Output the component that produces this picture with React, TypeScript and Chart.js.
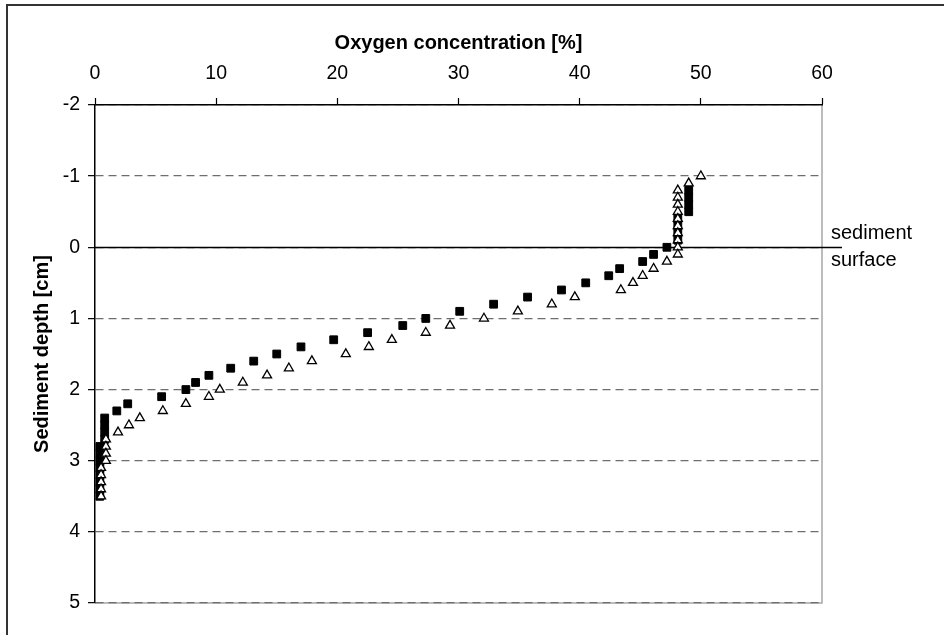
import React, { useEffect, useRef } from "react";
import { Chart, registerables } from "chart.js";

Chart.register(...registerables);

// ---- Data ----
// Filled squares: depth [cm] and oxygen [%]
const squareDepth = [
  -0.8, -0.7, -0.6, -0.5, -0.4, -0.3, -0.2, -0.1, 0.0, 0.1, 0.2, 0.3, 0.4, 0.5, 0.6, 0.7,
  0.8, 0.9, 1.0, 1.1, 1.2, 1.3, 1.4, 1.5, 1.6, 1.7, 1.8, 1.9, 2.0, 2.1, 2.2, 2.3, 2.4, 2.5,
  2.6, 2.7, 2.8, 2.9, 3.0, 3.1, 3.2, 3.3, 3.4, 3.5,
];
const squareO2 = [
  49.0, 49.0, 49.0, 49.0, 48.1, 48.1, 48.1, 48.1, 47.2, 46.1, 45.2, 43.3, 42.4, 40.5, 38.5, 35.7,
  32.9, 30.1, 27.3, 25.4, 22.5, 19.7, 17.0, 15.0, 13.1, 11.2, 9.4, 8.3, 7.5, 5.5, 2.7, 1.8, 0.8, 0.8,
  0.8, 0.8, 0.4, 0.4, 0.4, 0.4, 0.4, 0.4, 0.4, 0.4,
];

// Open triangles: depth [cm] and oxygen [%]
const triangleDepth = [
  -1.0, -0.9, -0.8, -0.7, -0.6, -0.5, -0.4, -0.3, -0.2, -0.1, 0.0, 0.1, 0.2, 0.3, 0.4, 0.5,
  0.6, 0.7, 0.8, 0.9, 1.0, 1.1, 1.2, 1.3, 1.4, 1.5, 1.6, 1.7, 1.8, 1.9, 2.0, 2.1, 2.2, 2.3,
  2.4, 2.5, 2.6, 2.7, 2.8, 2.9, 3.0, 3.1, 3.2, 3.3, 3.4, 3.5,
];
const triangleO2 = [
  50.0, 49.0, 48.1, 48.1, 48.1, 48.1, 48.1, 48.1, 48.1, 48.1, 48.1, 48.1, 47.2, 46.1, 45.2, 44.4,
  43.4, 39.6, 37.7, 34.9, 32.1, 29.3, 27.3, 24.5, 22.6, 20.7, 17.9, 16.0, 14.2, 12.2, 10.3, 9.4,
  7.5, 5.6, 3.7, 2.8, 1.9, 0.9, 0.9, 0.9, 0.9, 0.5, 0.5, 0.5, 0.5, 0.5,
];

const xTicks = [0, 10, 20, 30, 40, 50, 60];
const yTicks = [-2, -1, 0, 1, 2, 3, 4, 5];
const xTitle = "Oxygen concentration [%]";
const yTitle = "Sediment depth [cm]";
const surfaceLabel = ["sediment", "surface"];

const FONT = "'Liberation Sans', Arial, Helvetica, sans-serif";

export default function App() {
  const ref = useRef<HTMLCanvasElement>(null);

  useEffect(() => {
    const canvas = ref.current;
    if (!canvas) return;

    const decor = {
      id: "decor",
      beforeDraw(chart: any) {
        const { ctx, chartArea: a } = chart;
        ctx.save();
        ctx.fillStyle = "#ffffff";
        ctx.fillRect(0, 0, chart.width, chart.height);
        // outer frame (right/bottom run off the picture)
        ctx.strokeStyle = "#333333";
        ctx.lineWidth = 2;
        ctx.strokeRect(7, 5, chart.width + 20, chart.height + 20);
        // plot area border (grey) right and bottom
        ctx.strokeStyle = "#a6a6a6";
        ctx.lineWidth = 1.5;
        ctx.beginPath();
        ctx.moveTo(a.left, a.bottom);
        ctx.lineTo(a.right, a.bottom);
        ctx.lineTo(a.right, a.top);
        ctx.stroke();
        ctx.restore();
      },
      beforeDatasetsDraw(chart: any) {
        const { ctx, chartArea: a } = chart;
        const y0 = Math.round(chart.scales.y.getPixelForValue(0)) + 0.5;
        ctx.save();
        ctx.strokeStyle = "#000000";
        ctx.lineWidth = 1.5;
        ctx.beginPath();
        ctx.moveTo(a.left, y0);
        ctx.lineTo(a.right + 20, y0);
        ctx.stroke();
        ctx.restore();
      },
      afterDraw(chart: any) {
        const { ctx, chartArea: a } = chart;
        const y0 = chart.scales.y.getPixelForValue(0);
        ctx.save();
        ctx.fillStyle = "#000000";
        ctx.font = `20px ${FONT}`;
        ctx.textAlign = "left";
        ctx.textBaseline = "alphabetic";
        ctx.fillText(surfaceLabel[0], a.right + 9, y0 - 8);
        ctx.fillText(surfaceLabel[1], a.right + 9, y0 + 19);
        ctx.restore();
      },
    };

    const chart = new Chart(canvas, {
      type: "scatter",
      data: {
        datasets: [
          {
            label: "squares",
            data: squareDepth.map((d, i) => ({ x: squareO2[i], y: d })),
            pointStyle: "rect",
            pointRadius: 5.5,
            pointHoverRadius: 5.5,
            backgroundColor: "#000000",
            borderColor: "#000000",
            borderWidth: 1,
            showLine: false,
            order: 1,
          },
          {
            label: "triangles",
            data: triangleDepth.map((d, i) => ({ x: triangleO2[i], y: d })),
            pointStyle: "triangle",
            pointRadius: 5.2,
            pointHoverRadius: 5.2,
            backgroundColor: "#ffffff",
            borderColor: "#000000",
            borderWidth: 1.3,
            showLine: false,
            order: 0,
          },
        ],
      },
      options: {
        responsive: false,
        animation: false,
        devicePixelRatio: 1,
        layout: { padding: { left: 0, top: 0, right: 122, bottom: 32 } },
        plugins: {
          legend: { display: false },
          tooltip: { enabled: false },
        },
        scales: {
          x: {
            type: "linear",
            position: "top",
            min: 0,
            max: 60,
            afterBuildTicks: (s: any) => {
              s.ticks = xTicks.map((v) => ({ value: v }));
            },
            afterFit: (s: any) => {
              s.height = 105;
            },
            ticks: {
              font: { family: FONT, size: 19.5 },
              color: "#000000",
              padding: 12.6,
              maxRotation: 0,
              autoSkip: false,
            },
            grid: {
              drawOnChartArea: false,
              drawTicks: true,
              tickLength: 7,
              tickColor: "#000000",
              tickWidth: 1.2,
            },
            border: { display: true, color: "#000000", width: 1.5 },
            title: {
              display: true,
              text: xTitle,
              color: "#000000",
              font: { family: FONT, size: 20, weight: "bold" },
              padding: { top: 31, bottom: 0 },
            },
          },
          y: {
            type: "linear",
            position: "left",
            reverse: true,
            min: -2,
            max: 5,
            afterBuildTicks: (s: any) => {
              s.ticks = yTicks.map((v) => ({ value: v }));
            },
            afterFit: (s: any) => {
              s.width = 95;
            },
            ticks: {
              font: { family: FONT, size: 19.5 },
              color: "#000000",
              padding: 8,
              autoSkip: false,
            },
            grid: {
              drawOnChartArea: true,
              drawTicks: true,
              tickLength: 7,
              color: "#6e6e6e",
              lineWidth: 1.3,
              tickColor: "#000000",
              tickWidth: 1.2,
              tickBorderDash: [],
            },
            border: {
              display: true,
              color: "#000000",
              width: 1.5,
              dash: (ctx: any) => (ctx.type === "tick" ? [8, 5] : []),
            },
            title: {
              display: true,
              text: yTitle,
              color: "#000000",
              font: { family: FONT, size: 20, weight: "bold" },
              padding: { top: 30, bottom: 0 },
            },
          },
        },
      },
      plugins: [decor],
    } as any);

    return () => {
      chart.destroy();
    };
  }, []);

  return (
    <div style={{ position: "fixed", left: 0, top: 0, width: 944, height: 635, background: "#fff" }}>
      <canvas ref={ref} width={944} height={635} style={{ display: "block", width: 944, height: 635 }} />
    </div>
  );
}
